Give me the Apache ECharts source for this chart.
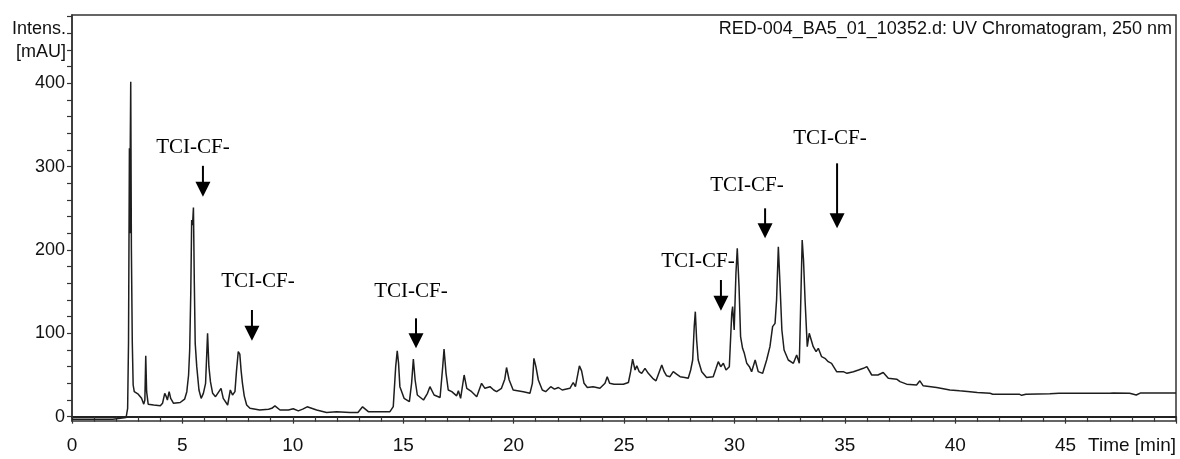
<!DOCTYPE html>
<html>
<head>
<meta charset="utf-8">
<title>UV Chromatogram</title>
<script src="https://cdn.jsdelivr.net/npm/echarts@6/dist/echarts.min.js"></script>
<style>
  html, body { margin: 0; padding: 0; background: #fff; }
  #chart { width: 1180px; height: 459px; }
</style>
</head>
<body>
<div id="chart"></div>
<script>
// retention time (min) and absorbance (mAU)
var timeMin = [
  0, 1.85, 1.9, 2.45, 2.52, 2.56, 2.6, 2.62, 2.64, 2.66, 2.69, 2.73, 2.77, 2.82, 3.0, 3.15, 3.25, 3.3, 3.34, 3.38,
  3.45, 3.7, 4.0, 4.1, 4.2, 4.27, 4.32, 4.4, 4.47, 4.6, 4.9, 5.1, 5.2, 5.28, 5.33, 5.38, 5.42, 5.46, 5.5, 5.54,
  5.58, 5.65, 5.75, 5.85, 5.95, 6.05, 6.14, 6.2, 6.27, 6.37, 6.5, 6.6, 6.75, 6.85, 7.05, 7.17, 7.27, 7.38, 7.45, 7.53,
  7.6, 7.66, 7.72, 7.8, 7.91, 8.06, 8.5, 8.9, 9.05, 9.19, 9.42, 9.8, 10.02, 10.25, 10.45, 10.65, 11.08, 11.53, 11.98, 12.59,
  12.95, 13.16, 13.42, 14.4, 14.55, 14.66, 14.73, 14.79, 14.85, 15.04, 15.28, 15.38, 15.46, 15.54, 15.64, 15.92, 16.1, 16.21, 16.4, 16.67,
  16.79, 16.85, 16.94, 17.04, 17.2, 17.42, 17.5, 17.6, 17.76, 17.88, 18.1, 18.33, 18.55, 18.7, 18.93, 19.1, 19.23, 19.45, 19.6, 19.68,
  19.8, 19.98, 20.44, 20.74, 20.85, 20.92, 21.01, 21.12, 21.3, 21.45, 21.68, 21.85, 22.03, 22.2, 22.55, 22.7, 22.8, 22.98, 23.08, 23.19,
  23.34, 23.6, 23.91, 24.14, 24.24, 24.35, 24.55, 24.97, 25.2, 25.3, 25.39, 25.5, 25.58, 25.69, 25.8, 25.95, 26.1, 26.3, 26.45, 26.6,
  26.71, 26.82, 26.93, 27.08, 27.23, 27.38, 27.54, 27.75, 27.91, 28.02, 28.11, 28.18, 28.23, 28.29, 28.36, 28.52, 28.74, 29.04, 29.17, 29.27,
  29.38, 29.5, 29.62, 29.77, 29.88, 29.92, 29.99, 30.07, 30.13, 30.21, 30.28, 30.37, 30.45, 30.56, 30.68, 30.78, 30.94, 31.08, 31.28, 31.46,
  31.61, 31.73, 31.84, 31.91, 31.99, 32.07, 32.15, 32.25, 32.44, 32.67, 32.82, 32.94, 33.0, 33.07, 33.13, 33.2, 33.3, 33.39, 33.48, 33.57,
  33.7, 33.8, 33.95, 34.1, 34.25, 34.4, 34.63, 34.93, 35.1, 35.39, 35.62, 35.84, 36.0, 36.22, 36.5, 36.74, 36.97, 37.35, 37.5, 37.8,
  38.25, 38.4, 38.55, 39.16, 39.76, 40.2, 40.67, 41.0, 41.58, 41.7, 42.9, 43.01, 43.2, 44.29, 44.7, 47.0, 47.16, 47.9, 48.2, 48.4,
  50
];
var intensity = [
  -3, -3, -1, -1, 10, 90, 322, 220, 330, 402, 200, 90, 38, 30, 27, 22, 15, 20, 73, 30,
  15, 14, 13, 16, 28, 24, 20, 30, 22, 16, 17, 21, 30, 50, 80, 150, 236, 230, 251, 160,
  88, 60, 32, 22, 28, 40, 100, 60, 42, 28, 24, 28, 34, 22, 14, 32, 26, 30, 55, 78,
  75, 55, 40, 25, 14, 10, 8, 9, 10, 13, 8, 8, 9.5, 7, 9, 11.8, 8, 5, 6, 5,
  5, 11.8, 6, 6, 12, 60, 79, 64, 36, 22, 18, 40, 69, 44, 26, 20, 28, 36, 26, 23,
  60, 81, 52, 32, 30, 25, 31, 22, 50, 34, 30, 24, 40, 34, 36, 32, 30, 34, 45, 59,
  44, 32, 30, 28, 40, 70, 60, 44, 32, 30, 36, 33, 35, 32, 34, 41, 36, 61, 55, 40,
  35, 36, 34, 40, 48, 40, 39, 39, 41, 54, 69, 56, 61, 54, 52, 58, 52, 46, 43, 54,
  62, 54, 49, 48, 54, 51, 48, 47, 46, 56, 68, 108, 126, 92, 68, 54, 47, 48, 58, 66,
  60, 64, 56, 60, 124, 132, 104, 172, 202, 156, 96, 82, 76, 64, 60, 54, 68, 54, 52, 68,
  84, 108, 112, 140, 204, 156, 104, 80, 68, 64, 74, 64, 132, 212, 188, 140, 84, 100, 102, 84,
  78, 82, 72, 70, 66, 64, 54, 54, 52, 54, 56, 58, 60, 50, 50, 53, 46, 45, 42, 39,
  38, 43, 37, 35, 32, 31, 30, 29, 28, 27, 27, 25.6, 27, 27.6, 28, 28, 28.5, 28, 26, 28.5,
  28.5
];

// annotation arrows: x (min), shaft top, arrow tip, label centre x, label centre y
var arrowX = [5.93, 8.15, 15.58, 29.39, 31.39, 34.65];
var arrowTop = [301, 128, 118, 164, 250, 304];
var arrowTip = [264, 91, 82, 127, 214, 226];
var labelX = [5.48, 8.42, 15.35, 28.35, 30.57, 34.33];
var labelY = [323, 162, 150, 186, 278, 334];
var annotationText = 'TCI-CF-';

var yLabelValues = [0, 100, 200, 300, 400];
var yTickValues = [];
for (var v = 0; v <= 480; v += 20) yTickValues.push(v);

var points = timeMin.map(function (t, i) { return [t, intensity[i]]; });
var arrows = arrowX.map(function (x, i) {
  return [x, arrowTop[i], arrowTip[i], labelX[i], labelY[i]];
});

var chart = echarts.init(document.getElementById('chart'));

var option = {
  animation: false,
  backgroundColor: '#fff',
  textStyle: { fontFamily: '"Liberation Sans", Arial, sans-serif' },
  grid: {
    left: 72,
    right: 4,
    top: 15,
    bottom: 38,
    show: true,
    borderColor: '#333',
    borderWidth: 1.5
  },
  graphic: [
    {
      type: 'text', x: 66, y: 29,
      style: { text: 'Intens.', fill: '#111', font: '18px "Liberation Sans", Arial', align: 'right', verticalAlign: 'middle' }
    },
    {
      type: 'text', x: 66, y: 52,
      style: { text: '[mAU]', fill: '#111', font: '18px "Liberation Sans", Arial', align: 'right', verticalAlign: 'middle' }
    },
    {
      type: 'text', x: 1172, y: 29,
      style: { text: 'RED-004_BA5_01_10352.d: UV Chromatogram, 250 nm', fill: '#111', font: '18px "Liberation Sans", Arial', align: 'right', verticalAlign: 'middle' }
    }
  ],
  xAxis: {
    type: 'value',
    min: 0,
    max: 50,
    interval: 5,
    offset: 6,
    axisLine: { show: true, lineStyle: { color: '#222', width: 2 } },
    axisTick: { show: true, length: 7, lineStyle: { color: '#333', width: 1.2 } },
    minorTick: { show: true, splitNumber: 5, length: 5, lineStyle: { color: '#333', width: 1.2 } },
    splitLine: { show: false },
    axisLabel: {
      color: '#111',
      fontSize: 19,
      margin: 9,
      showMaxLabel: true,
      alignMaxLabel: 'right',
      formatter: function (val) { return val === 50 ? 'Time [min]' : String(val); }
    }
  },
  yAxis: {
    type: 'value',
    min: -5.2,
    max: 482,
    axisLine: { show: true, lineStyle: { color: '#333', width: 1.5 } },
    axisTick: { show: true, length: 5, customValues: yTickValues, lineStyle: { color: '#333', width: 1.2 } },
    splitLine: { show: false },
    axisLabel: {
      color: '#111',
      fontSize: 18,
      margin: 7,
      customValues: yLabelValues
    }
  },
  series: [
    {
      type: 'line',
      data: points,
      symbol: 'none',
      lineStyle: { color: '#1e1e1e', width: 1.5 },
      silent: true
    },
    {
      type: 'custom',
      data: arrows,
      silent: true,
      renderItem: function (params, api) {
        var top = api.coord([api.value(0), api.value(1)]);
        var tip = api.coord([api.value(0), api.value(2)]);
        var lab = api.coord([api.value(3), api.value(4)]);
        var head = 15;
        return {
          type: 'group',
          children: [
            {
              type: 'line',
              shape: { x1: top[0], y1: top[1], x2: tip[0], y2: tip[1] - head + 1 },
              style: { stroke: '#000', lineWidth: 2 }
            },
            {
              type: 'polygon',
              shape: { points: [[tip[0] - 7.5, tip[1] - head], [tip[0] + 7.5, tip[1] - head], [tip[0], tip[1]]] },
              style: { fill: '#000' }
            },
            {
              type: 'text',
              x: lab[0],
              y: lab[1],
              style: {
                text: annotationText,
                fill: '#000',
                font: '21px "Liberation Serif", "Times New Roman", serif',
                align: 'center',
                verticalAlign: 'middle'
              }
            }
          ]
        };
      }
    }
  ]
};

chart.setOption(option);
</script>
</body>
</html>
